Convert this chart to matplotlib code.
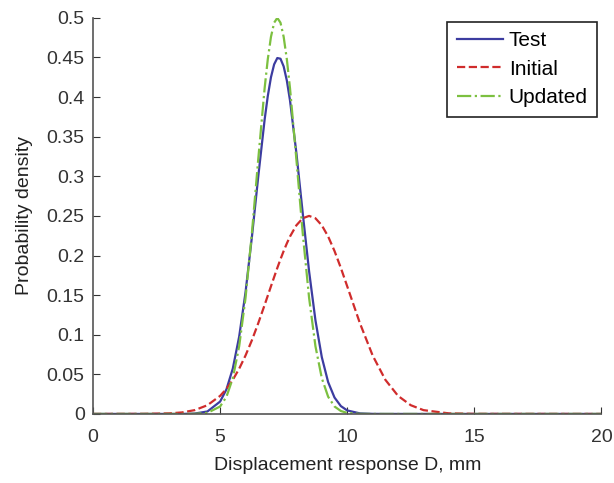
import matplotlib.pyplot as plt

plt.rcParams['font.family'] = ['Liberation Sans', 'DejaVu Sans']

# displacement values (mm) where the curves were read
disp = [0, 2, 3, 3.5, 4, 4.5, 5, 5.25, 5.5, 5.75, 6, 6.25, 6.5, 6.75, 6.875,
        7, 7.125, 7.25, 7.375, 7.5, 7.625, 7.75, 8, 8.25, 8.5, 8.75, 9, 9.25,
        9.5, 9.75, 10, 10.5, 11, 11.5, 12, 12.5, 13, 14, 15, 20]

pdf_test = [0, 0, 0, 0, 0.0005, 0.0031, 0.0156, 0.0311, 0.0574, 0.0977, 0.1537,
            0.2233, 0.2996, 0.3713, 0.4012, 0.4250, 0.4413, 0.4493, 0.4484,
            0.4387, 0.4208, 0.3956, 0.3295, 0.2535, 0.1801, 0.1182, 0.0717,
            0.0401, 0.0207, 0.0099, 0.0044, 0.0007, 0.0001, 0, 0, 0, 0, 0, 0, 0]

pdf_initial = [0, 0.0001, 0.0007, 0.0019, 0.0048, 0.0110, 0.0228, 0.0318, 0.0431,
               0.0571, 0.0738, 0.0930, 0.1145, 0.1375, 0.1493, 0.1611, 0.1728,
               0.1843, 0.1953, 0.2057, 0.2153, 0.2240, 0.2381, 0.2470, 0.2500,
               0.2470, 0.2381, 0.2240, 0.2057, 0.1843, 0.1611, 0.1145, 0.0738,
               0.0431, 0.0228, 0.0110, 0.0048, 0.0007, 0.0001, 0]

pdf_updated = [0, 0, 0, 0, 0.0001, 0.0013, 0.0094, 0.0217, 0.0452, 0.0855, 0.1466,
               0.2281, 0.3215, 0.4109, 0.4477, 0.4760, 0.4939, 0.5000, 0.4939,
               0.4760, 0.4477, 0.4109, 0.3215, 0.2281, 0.1466, 0.0855, 0.0452,
               0.0217, 0.0094, 0.0037, 0.0013, 0.0001, 0, 0, 0, 0, 0, 0, 0, 0]

fig = plt.figure(figsize=(6.14, 4.83), dpi=100)
ax = fig.add_axes([0.1515, 0.143, 0.828, 0.82])

ax.plot(disp, pdf_test, '-', color='#3c3ca0', lw=1.6, label='Test')
ax.plot(disp, pdf_initial, '--', color='#d02c2c', lw=1.6, label='Initial')
ax.plot(disp, pdf_updated, '-.', color='#7cc040', lw=1.6, label='Updated')

ax.set_xlim(0, 20)
ax.set_ylim(0, 0.5)
ax.set_xticks([0, 5, 10, 15, 20])
ax.set_yticks([0, 0.05, 0.1, 0.15, 0.2, 0.25, 0.3, 0.35, 0.4, 0.45, 0.5])
ax.set_yticklabels(['0', '0.05', '0.1', '0.15', '0.2', '0.25', '0.3', '0.35',
                    '0.4', '0.45', '0.5'])
ax.tick_params(direction='in', labelsize=14, colors='#333333', length=5)
ax.tick_params(axis='x', pad=11)
ax.tick_params(axis='y', pad=6)
for s in ['top', 'right']:
    ax.spines[s].set_visible(False)
for s in ['left', 'bottom']:
    ax.spines[s].set_color('#555555')
    ax.spines[s].set_linewidth(1.2)

ax.set_xlabel('Displacement response D, mm', fontsize=14, color='#222222',
              labelpad=8)
ax.set_ylabel('Probability density', fontsize=14, color='#222222', labelpad=10)

leg = ax.legend(loc='upper right', fontsize=15, fancybox=False, framealpha=1,
                edgecolor='#222222', handlelength=2.2, borderaxespad=0.2,
                labelspacing=0.45, handletextpad=0.3, borderpad=0.45)
leg.get_frame().set_linewidth(1.2)

fig.savefig('out.png', dpi=100)
